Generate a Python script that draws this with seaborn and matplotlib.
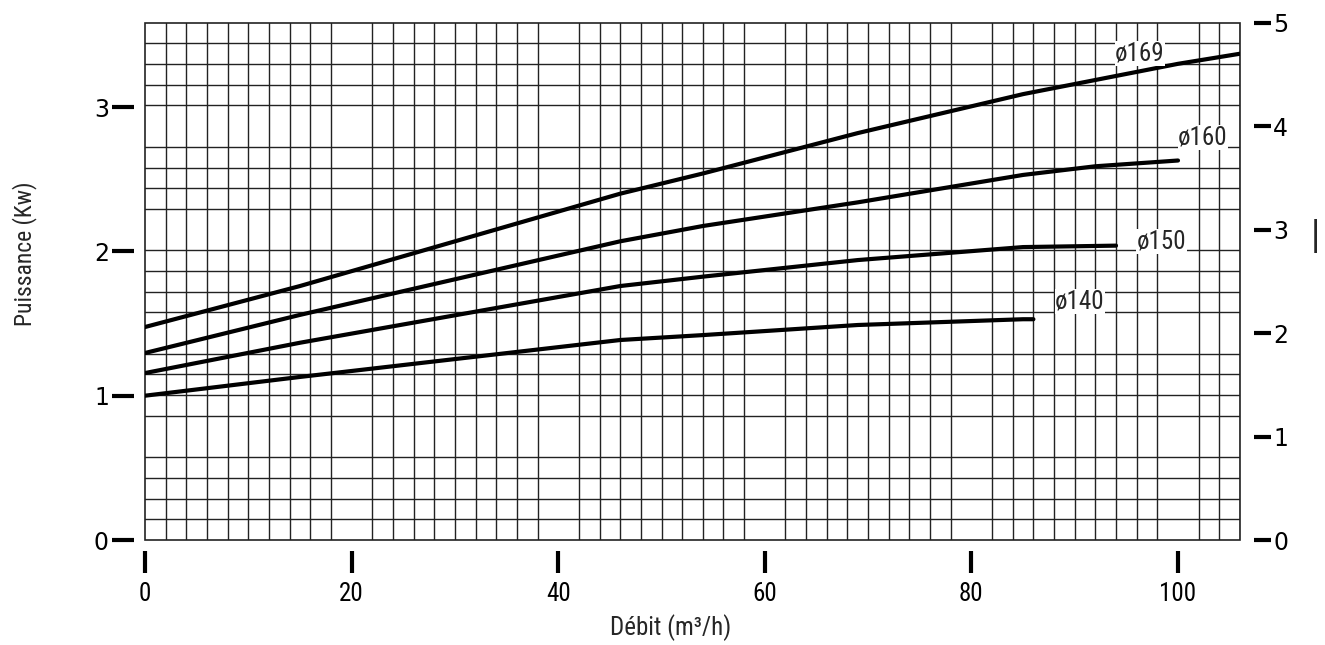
import numpy as np
import pandas as pd
import seaborn as sns
import matplotlib
matplotlib.use("Agg")
import matplotlib.pyplot as plt
from matplotlib import font_manager
from matplotlib.patches import Rectangle

# Curve data (Débit m3/h -> Puissance kW)
x_169 = [0, 15, 46, 54, 69, 85, 100, 106]
p_169 = [1.476, 1.76, 2.40, 2.54, 2.82, 3.09, 3.30, 3.37]
x_160 = [0, 15, 46, 54, 69, 85, 92, 100]
p_160 = [1.296, 1.56, 2.07, 2.176, 2.34, 2.53, 2.59, 2.63]
x_150 = [0, 15, 46, 54, 69, 85, 94]
p_150 = [1.157, 1.367, 1.76, 1.825, 1.94, 2.03, 2.04]
x_140 = [0, 15, 46, 54, 69, 85, 86]
p_140 = [1.0, 1.13, 1.386, 1.42, 1.49, 1.53, 1.53]

curve_names = ["ø169", "ø160", "ø150", "ø140"]
label_x = [93.9, 100.0, 96.0, 88.1]
label_y = [3.375, 2.79, 2.07, 1.65]

x_ticks = [0, 20, 40, 60, 80, 100]
left_ticks = [0, 1, 2, 3]
right_ticks = [0, 1, 2, 3, 4, 5]


def pick_font(names):
    available = {f.name for f in font_manager.fontManager.ttflist}
    for n in names:
        if n in available:
            return n
    return "DejaVu Sans"


narrow = pick_font(["Liberation Sans Narrow", "DejaVu Sans Condensed", "Roboto Condensed"])

sns.set_style("white")
plt.rcParams['font.family'] = ['DejaVu Sans']

fig = plt.figure(figsize=(13.25, 6.45), dpi=100)
ax = fig.add_axes([145 / 1325, 105 / 645, 1095 / 1325, 517.3 / 645])
ax2 = ax.twinx()

# curves above the grid drawn on the twin axis
ax.set_zorder(ax2.get_zorder() + 1)
ax.patch.set_visible(False)

frames = [
    pd.DataFrame({"debit": x_169, "puissance": p_169, "d": "ø169"}),
    pd.DataFrame({"debit": x_160, "puissance": p_160, "d": "ø160"}),
    pd.DataFrame({"debit": x_150, "puissance": p_150, "d": "ø150"}),
    pd.DataFrame({"debit": x_140, "puissance": p_140, "d": "ø140"}),
]
df = pd.concat(frames, ignore_index=True)

sns.lineplot(data=df, x="debit", y="puissance", hue="d", units="d", estimator=None,
             palette=["black"] * 4, linewidth=3.0, legend=False, sort=False, ax=ax)

for name, lx, ly in zip(curve_names, label_x, label_y):
    ax.text(lx, ly, name, fontsize=18, family=[narrow, "DejaVu Sans"], va="center", ha="left",
            bbox=dict(facecolor="white", edgecolor="none", pad=0.3), zorder=5)

ax.set_xlim(0, 106)
ax.set_ylim(0, 3.585)
ax2.set_ylim(0, 5)

# grid: every 2 m3/h and every 0.2 on the right scale
ax.set_xticks(np.arange(0, 107, 2), minor=True)
ax.grid(True, which="minor", axis="x", color="#222222", linewidth=1.0)
ax2.set_yticks(np.arange(0, 5.01, 0.2), minor=True)
ax2.grid(True, which="minor", axis="y", color="#222222", linewidth=1.0)
ax2.grid(False, which="major")
ax.grid(False, which="major")
ax.add_patch(Rectangle((0, 0), 1, 1, transform=ax.transAxes, fill=False,
                       edgecolor="#222222", linewidth=1.2, clip_on=False, zorder=0))

for a in (ax, ax2):
    for s in a.spines.values():
        s.set_visible(False)
ax.spines["left"].set_position(("outward", 8))
ax.spines["bottom"].set_position(("outward", 8))
ax2.spines["right"].set_position(("outward", 10))

ax.set_xticks(x_ticks)
ax.set_yticks(left_ticks)
ax2.set_yticks(right_ticks)
ax.tick_params(axis="x", direction="out", length=16, width=3, pad=6, labelsize=18,
               bottom=True, colors="black")
ax.tick_params(axis="y", direction="out", length=16, width=3, pad=2, labelsize=17,
               left=True, colors="black")
ax2.tick_params(axis="y", which="major", direction="out", length=12, width=3, pad=2,
                labelsize=17, right=True, colors="black")
ax2.tick_params(which="minor", length=0)
ax.tick_params(which="minor", length=0)
for lab in ax.get_xticklabels():
    lab.set_family([narrow, "DejaVu Sans"])

ax.set_xlabel("Débit (m³/h)", fontsize=18, family=[narrow, "DejaVu Sans"])
ax.xaxis.label.set_va("center")
ax.xaxis.set_label_coords(0.48, -0.170)
ax.set_ylabel("Puissance (Kw)", fontsize=17, family=[narrow, "DejaVu Sans"])
ax.yaxis.label.set_va("center")
ax.yaxis.set_label_coords(-0.1096, 0.553)
ax2.set_ylabel("")

fig.text(1315 / 1325, 1 - 236 / 645, "|", fontsize=24, ha="center", va="center")

fig.savefig("out.png", dpi=100)
